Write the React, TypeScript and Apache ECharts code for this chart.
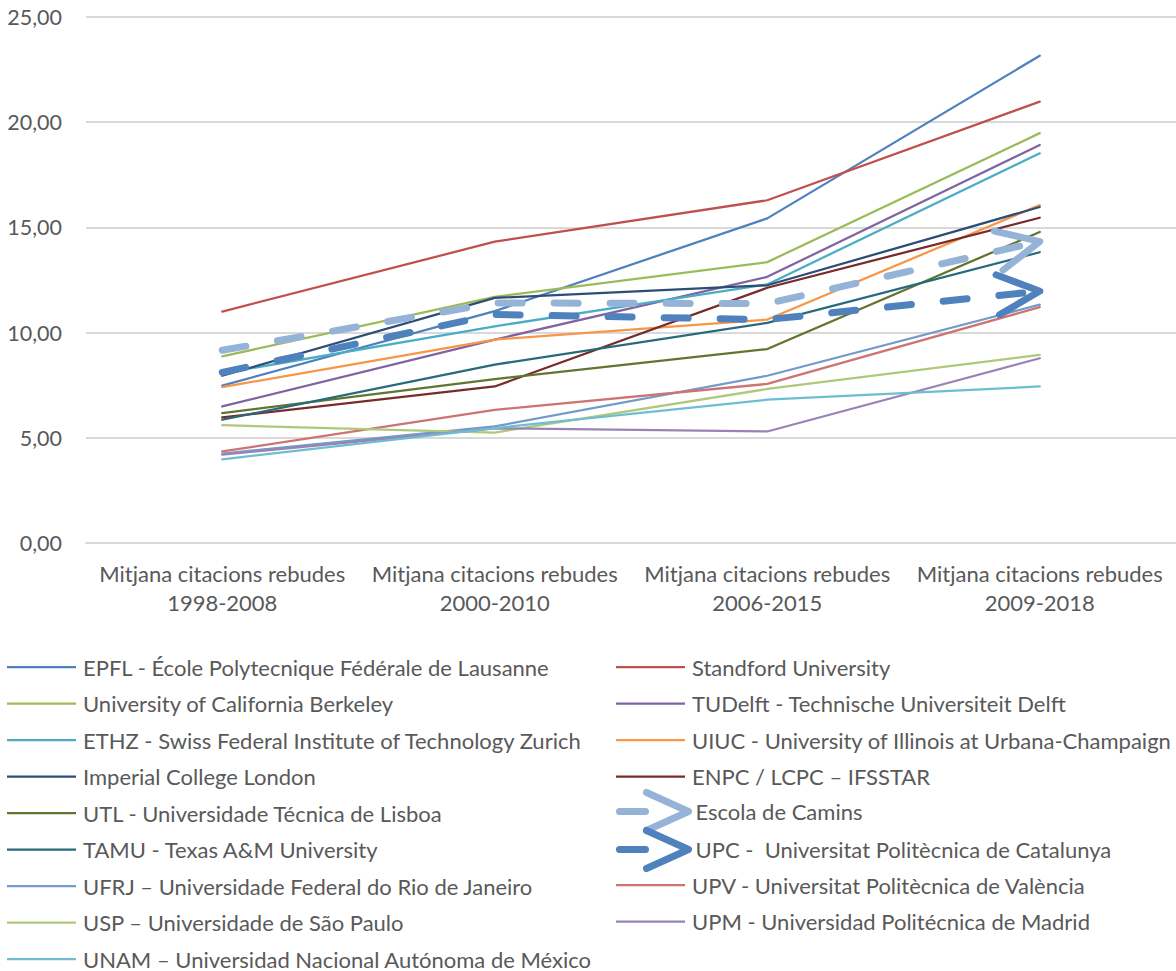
import React, { useEffect, useRef } from 'react';
import * as echarts from 'echarts';

// ---------- DATA ----------
const categories = [
  'Mitjana citacions rebudes\n1998-2008',
  'Mitjana citacions rebudes\n2000-2010',
  'Mitjana citacions rebudes\n2006-2015',
  'Mitjana citacions rebudes\n2009-2018',
];

const yTicks = [0, 5, 10, 15, 20, 25];

const epfl = [7.48, 11.02, 15.43, 23.16];
const standford = [11.0, 14.32, 16.29, 20.98];
const berkeley = [8.87, 11.7, 13.35, 19.48];
const tudelft = [6.49, 9.67, 12.65, 18.92];
const ethz = [8.07, 10.3, 12.29, 18.52];
const uiuc = [7.41, 9.67, 10.62, 16.06];
const imperial = [7.95, 11.65, 12.25, 15.97];
const enpc = [5.97, 7.44, 12.13, 15.46];
const utl = [6.17, 7.79, 9.22, 14.78];
const escola = [9.16, 11.41, 11.38, 14.33];
const tamu = [5.86, 8.48, 10.46, 13.82];
const upc = [8.11, 10.86, 10.62, 11.97];
const ufrj = [4.25, 5.54, 7.95, 11.33];
const upv = [4.35, 6.33, 7.56, 11.21];
const usp = [5.6, 5.25, 7.32, 8.94];
const upm = [4.2, 5.45, 5.3, 8.78];
const unam = [3.98, 5.46, 6.81, 7.44];

const names = {
  epfl: 'EPFL - École Polytecnique Fédérale de Lausanne',
  standford: 'Standford University',
  berkeley: 'University of California Berkeley',
  tudelft: 'TUDelft - Technische Universiteit Delft',
  ethz: 'ETHZ - Swiss Federal Institute of Technology Zurich',
  uiuc: 'UIUC - University of Illinois at Urbana-Champaign',
  imperial: 'Imperial College London',
  enpc: 'ENPC / LCPC – IFSSTAR',
  utl: 'UTL - Universidade Técnica de Lisboa',
  escola: 'Escola de Camins',
  tamu: 'TAMU - Texas A&M University',
  upc: 'UPC -  Universitat Politècnica de Catalunya',
  ufrj: 'UFRJ – Universidade Federal do Rio de Janeiro',
  upv: 'UPV - Universitat Politècnica de València',
  usp: 'USP – Universidade de São Paulo',
  upm: 'UPM - Universidad Politécnica de Madrid',
  unam: 'UNAM – Universidad Nacional Autónoma de México',
};

// ---------- STYLE ----------
const FONT = 'Lato, sans-serif';
const FONT_SIZE = 22;
const Y_FONT_SIZE = 21.5;
const TEXT = '#595959';
const GRID = '#D9D9D9';

type S = { key: keyof typeof names; data: number[]; color: string; arrow?: boolean; rot?: number };

const seriesDefs: S[] = [
  { key: 'epfl', data: epfl, color: '#4F81BD' },
  { key: 'standford', data: standford, color: '#C0504D' },
  { key: 'berkeley', data: berkeley, color: '#9BBB59' },
  { key: 'tudelft', data: tudelft, color: '#8064A2' },
  { key: 'ethz', data: ethz, color: '#4BACC6' },
  { key: 'uiuc', data: uiuc, color: '#F79646' },
  { key: 'imperial', data: imperial, color: '#2C4D75' },
  { key: 'enpc', data: enpc, color: '#772C2A' },
  { key: 'utl', data: utl, color: '#5F7530' },
  { key: 'escola', data: escola, color: '#95B3D7', arrow: true, rot: 12.5 },
  { key: 'tamu', data: tamu, color: '#276A7C' },
  { key: 'upc', data: upc, color: '#4F81BD', arrow: true, rot: 5 },
  { key: 'ufrj', data: ufrj, color: '#729ACA' },
  { key: 'upv', data: upv, color: '#CD7371' },
  { key: 'usp', data: usp, color: '#AFC97A' },
  { key: 'upm', data: upm, color: '#9983B5' },
  { key: 'unam', data: unam, color: '#6FBDD1' },
];

const CHEVRON = 'path://M0,0 L42,20 L0,40';
const LINE_ICON = 'path://M0,0 L69,0 L69,2.25 L0,2.25 Z';
const LEGEND_CHEVRON = 'path://M0,20 L26,20 M27,1 L69,20 L27,39';

const colorOf = (k: string) => seriesDefs.find((s) => s.key === k)!.color;

function buildSeries() {
  return seriesDefs.map((s) => {
    const data = s.data.map((v, i) => {
      if (s.arrow && i === s.data.length - 1) {
        const th = ((s.rot || 0) * Math.PI) / 180;
        return {
          value: v,
          symbol: CHEVRON,
          symbolSize: [42, 40],
          symbolRotate: s.rot,
          symbolOffset: [-21 * Math.cos(th), 21 * Math.sin(th)],
          itemStyle: {
            color: 'rgba(0,0,0,0)',
            borderColor: s.color,
            borderWidth: 7,
            borderCap: 'round',
            borderJoin: 'round',
          },
        };
      }
      return v;
    });
    return {
      type: 'line',
      name: names[s.key],
      data,
      symbol: 'none',
      showSymbol: true,
      silent: true,
      color: s.color,
      itemStyle: { color: s.color },
      lineStyle: s.arrow
        ? { color: s.color, width: 7, type: [24, 32], cap: 'round', join: 'round' }
        : { color: s.color, width: 2.25, cap: 'round', join: 'round' },
      emphasis: { disabled: true },
    };
  });
}

const legendText = {
  color: TEXT,
  fontFamily: FONT,
  fontSize: FONT_SIZE,
  lineHeight: 20,
  padding: [0, 0, 0, 2],
};

function lineLegend(keys: (keyof typeof names)[], left: number, top: number) {
  return {
    orient: 'vertical',
    left,
    top,
    padding: 0,
    itemWidth: 69,
    itemHeight: 20,
    itemGap: 14.5,
    selectedMode: false,
    symbolKeepAspect: true,
    textStyle: legendText,
    data: keys.map((k) => ({
      name: names[k],
      icon: LINE_ICON,
      itemStyle: { color: colorOf(k), borderWidth: 0 },
    })),
  };
}

function chevronLegend(key: keyof typeof names, left: number, top: number) {
  return {
    orient: 'vertical',
    left,
    top,
    padding: 0,
    itemWidth: 69,
    itemHeight: 40,
    itemGap: 0,
    selectedMode: false,
    symbolKeepAspect: true,
    textStyle: legendText,
    data: [
      {
        name: names[key],
        icon: LEGEND_CHEVRON,
        itemStyle: {
          color: 'rgba(0,0,0,0)',
          borderColor: colorOf(key),
          borderWidth: 7,
          borderCap: 'round',
          borderJoin: 'round',
        },
      },
    ],
  };
}

export default function App() {
  const ref = useRef<HTMLDivElement>(null);

  useEffect(() => {
    if (!ref.current) return;
    const chart = echarts.init(ref.current, null, { renderer: 'svg' });
    chart.setOption({
      animation: false,
      backgroundColor: '#FFFFFF',
      textStyle: { fontFamily: FONT },
      grid: { left: 86, top: 17, width: 1092, height: 526, containLabel: false },
      xAxis: {
        type: 'category',
        data: categories,
        boundaryGap: true,
        axisLine: { show: true, lineStyle: { color: GRID, width: 2 } },
        axisTick: { show: false },
        splitLine: { show: false },
        axisLabel: {
          color: TEXT,
          fontFamily: FONT,
          fontSize: FONT_SIZE,
          lineHeight: 29,
          margin: 16,
          interval: 0,
        },
      },
      yAxis: {
        type: 'value',
        min: yTicks[0],
        max: yTicks[yTicks.length - 1],
        interval: yTicks[1] - yTicks[0],
        axisLine: { show: false },
        axisTick: { show: false },
        splitLine: { show: true, lineStyle: { color: GRID, width: 2 } },
        axisLabel: {
          color: TEXT,
          fontFamily: FONT,
          fontSize: Y_FONT_SIZE,
          margin: 24,
          formatter: (v: number) => v.toFixed(2).replace('.', ','),
        },
      },
      legend: [
        lineLegend(['epfl', 'berkeley', 'ethz', 'imperial', 'utl', 'tamu', 'ufrj', 'usp', 'unam'], 7, 656),
        lineLegend(['standford', 'tudelft', 'uiuc', 'enpc'], 616, 656),
        chevronLegend('escola', 616, 789),
        chevronLegend('upc', 616, 827),
        lineLegend(['upv', 'upm'], 616, 874),
      ],
      series: buildSeries(),
    });
    return () => chart.dispose();
  }, []);

  return (
    <div
      ref={ref}
      style={{ position: 'fixed', left: 0, top: 0, width: 1176, height: 971, background: '#fff' }}
    />
  );
}
